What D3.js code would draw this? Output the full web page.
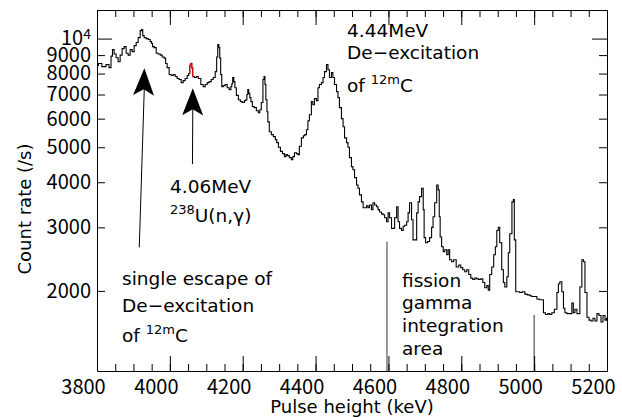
<!DOCTYPE html>
<html>
<head>
<meta charset="utf-8">
<script src="https://cdn.jsdelivr.net/npm/d3@7"></script>
<style>
  body { margin: 0; background: #fff; }
  svg { display: block; font-family: "DejaVu Sans", "Liberation Sans", sans-serif; }
  .tick text { font-family: "Noto Sans CJK JP", "Liberation Sans", sans-serif; }
</style>
</head>
<body>
<svg id="chart"></svg>
<script>
// pulse height bins (keV) and count rate (/s)
const energy = [
  3800, 3808, 3819, 3830, 3836, 3841, 3844, 3850, 3855, 3861,
  3866, 3872, 3877, 3883, 3888, 3894, 3899, 3905, 3910, 3916,
  3921, 3924, 3927, 3932, 3938, 3943, 3949, 3951, 3954, 3960,
  3965, 3971, 3976, 3982, 3987, 3990, 3995, 4001, 4006, 4012,
  4017, 4023, 4028, 4034, 4039, 4045, 4050, 4053, 4056, 4059,
  4061, 4064, 4070, 4075, 4081, 4089, 4094, 4100, 4105, 4111,
  4116, 4122, 4127, 4130, 4133, 4136, 4138, 4141, 4144, 4149,
  4155, 4160, 4166, 4169, 4171, 4174, 4177, 4180, 4185, 4191,
  4196, 4202, 4207, 4210, 4213, 4215, 4218, 4221, 4224, 4229,
  4235, 4240, 4246, 4248, 4254, 4257, 4260, 4262, 4265, 4268,
  4270, 4276, 4281, 4287, 4292, 4295, 4301, 4306, 4312, 4317,
  4320, 4325, 4331, 4336, 4339, 4345, 4350, 4353, 4358, 4364,
  4369, 4372, 4378, 4380, 4386, 4391, 4394, 4400, 4405, 4408,
  4413, 4419, 4422, 4427, 4433, 4435, 4441, 4446, 4449, 4455,
  4460, 4463, 4468, 4474, 4477, 4482, 4488, 4490, 4496, 4501,
  4504, 4510, 4515, 4518, 4523, 4529, 4532, 4537, 4543, 4545,
  4551, 4556, 4559, 4565, 4570, 4573, 4578, 4584, 4587, 4592,
  4598, 4600, 4606, 4611, 4614, 4620, 4625, 4628, 4633, 4639,
  4642, 4647, 4653, 4655, 4661, 4666, 4669, 4675, 4680, 4683,
  4688, 4694, 4697, 4699, 4705, 4710, 4716, 4721, 4724, 4730,
  4735, 4738, 4741, 4743, 4749, 4752, 4757, 4763, 4765, 4771,
  4776, 4782, 4790, 4796, 4801, 4807, 4812, 4818, 4823, 4829,
  4834, 4840, 4845, 4851, 4856, 4862, 4867, 4873, 4875, 4881,
  4886, 4892, 4895, 4900, 4903, 4908, 4914, 4917, 4922, 4928,
  4930, 4936, 4942, 4944, 4947, 4952, 4958, 4963, 4972, 4977,
  4985, 4991, 4996, 5005, 5010, 5018, 5024, 5027, 5035, 5040,
  5046, 5051, 5060, 5065, 5068, 5073, 5079, 5082, 5087, 5093,
  5101, 5106, 5109, 5115, 5120, 5123, 5128, 5134, 5137, 5142,
  5148, 5153, 5159, 5164, 5170, 5175, 5181, 5186, 5192, 5197,
  5200
];
const countRate = [
  8420, 8530, 8360, 8470, 8310, 8940, 9320, 9060, 8850, 8630,
  9000, 9380, 9500, 9110, 9000, 9320, 9200, 9560, 9750, 10060,
  10520, 10590, 10190, 10060, 10000, 9940, 9810, 9690, 9500, 9440,
  9110, 9060, 9000, 8890, 8830, 8530, 8310, 7950, 7900, 7950,
  7850, 7750, 7700, 7550, 7650, 7750, 7900, 8000, 8420, 8530,
  8310, 7850, 7800, 7850, 7750, 7460, 7360, 7460, 7550, 7600,
  7700, 7800, 8100, 8890, 9620, 9440, 8830, 7950, 7360, 7410,
  7460, 7310, 7220, 7360, 7500, 7800, 7600, 7310, 6960, 6770,
  6690, 6650, 6730, 6770, 7000, 7220, 7050, 6860, 6690, 6480,
  6440, 6310, 6230, 6350, 6650, 7700, 7850, 7460, 6770, 6270,
  5880, 5520, 5420, 5350, 5250, 5150, 5000, 4870, 4800, 4710,
  4770, 4740, 4680, 4620, 4710, 4830, 4800, 4770, 5030, 5310,
  5380, 5420, 5590, 5920, 6150, 6690, 6560, 6820, 6730, 7310,
  7460, 7550, 7800, 8100, 8470, 8200, 7800, 8050, 7800, 7460,
  7130, 6860, 6440, 6000, 5700, 5310, 5150, 5000, 4680, 4420,
  4330, 4120, 3930, 3850, 3690, 3530, 3400, 3400, 3440, 3400,
  3460, 3360, 3510, 3460, 3420, 3360, 3310, 3270, 3250, 3190,
  3110, 3290, 3190, 2980, 2980, 3190, 3420, 3110, 2980, 2940,
  3020, 3040, 3110, 3290, 3510, 3150, 2770, 2770, 3290, 3530,
  3650, 3850, 3360, 2810, 2720, 2740, 2810, 3000, 3210, 3510,
  3930, 3810, 3210, 2820, 2650, 2570, 2600, 2520, 2600, 2440,
  2410, 2440, 2330, 2360, 2320, 2290, 2260, 2290, 2220, 2170,
  2150, 2170, 2160, 2150, 2160, 2110, 2040, 2070, 2010, 2220,
  2330, 2520, 2650, 2940, 3000, 2720, 2290, 2110, 2050, 2190,
  2550, 2880, 3530, 3580, 2770, 1990, 1990, 1980, 1990, 1960,
  1950, 1940, 1930, 1930, 1900, 1890, 1890, 1740, 1720, 1730,
  1720, 1740, 1780, 1980, 2090, 2120, 1990, 1790, 1740, 1730,
  1730, 1850, 1740, 1780, 1730, 1730, 2050, 2440, 2410, 1980,
  1690, 1660, 1650, 1680, 1650, 1730, 1710, 1640, 1710, 1660,
  1680
];
const redRange = [4053, 4064];

const xMajor = [3800, 4000, 4200, 4400, 4600, 4800, 5000, 5200];
const xMinor = d3.range(3800, 5201, 50);
const yLabelled = [2000, 3000, 4000, 5000, 6000, 7000, 8000, 9000, 10000];

// fission gamma integration area bounds: [energy, top of marker]
const integrationLines = [[4596, 2740], [5000, 1715]];
// arrows: [tail energy, tail count, tip energy, tip count]
const arrows = [[3916, 2640, 3930, 8270], [4062, 4490, 4063, 7280]];

const width = 622, height = 418;
const margin = { top: 10, right: 15, bottom: 47, left: 97 };
const innerWidth = width - margin.left - margin.right;
const innerHeight = height - margin.top - margin.bottom;

const svg = d3.select('#chart').attr('width', width).attr('height', height);
const g = svg.append('g').attr('transform', `translate(${margin.left},${margin.top})`);

const x = d3.scaleLinear().domain([3800, 5200]).range([0, innerWidth]);
const y = d3.scaleLog().domain([1200, 12000]).range([innerHeight, 0]);

const data = energy.map((e, i) => ({ e, c: countRate[i] }));

const line = d3.line()
  .x(d => x(d.e))
  .y(d => y(d.c))
  .curve(d3.curveStep);

g.append('path')
  .datum(data)
  .attr('fill', 'none')
  .attr('stroke', '#000')
  .attr('stroke-width', 1.1)
  .attr('d', line);

g.append('path')
  .datum(data.filter(d => d.e >= redRange[0] && d.e <= redRange[1]))
  .attr('fill', 'none')
  .attr('stroke', '#d01010')
  .attr('stroke-width', 1.4)
  .attr('d', line);

// integration area markers
g.selectAll('.intline')
  .data(integrationLines)
  .enter()
  .append('line')
  .attr('x1', d => x(d[0])).attr('x2', d => x(d[0]))
  .attr('y1', d => y(d[1])).attr('y2', innerHeight)
  .attr('stroke', '#333')
  .attr('stroke-width', 1);

// axes (frame with inward ticks)
function styleAxis(sel) {
  sel.selectAll('path, line').attr('stroke', '#000').attr('stroke-width', 1);
  sel.selectAll('text').attr('fill', '#000');
}

g.append('g').attr('transform', `translate(0,${innerHeight})`)
  .call(d3.axisBottom(x).tickValues(xMinor).tickSize(-7).tickSizeOuter(0).tickFormat(''))
  .call(styleAxis);
const xAx = g.append('g').attr('transform', `translate(0,${innerHeight})`)
  .call(d3.axisBottom(x).tickValues(xMajor).tickSize(-15).tickSizeOuter(0).tickPadding(9).tickFormat(d3.format('d')))
  .call(styleAxis);
// tick labels sit a little left of their ticks in the original figure
xAx.selectAll('text')
  .attr('x', -14)
  .attr('transform', 'translate(-14,0)')
  .attr('x', 0)
  .style('font-size', '20px');
xAx.select('.domain').remove();

g.append('g')
  .call(d3.axisTop(x).tickValues(xMinor).tickSize(-7).tickSizeOuter(0).tickFormat(''))
  .call(styleAxis);
g.append('g')
  .call(d3.axisTop(x).tickValues(xMajor).tickSize(-15).tickSizeOuter(0).tickFormat(''))
  .call(styleAxis)
  .select('.domain').remove();

const yAx = g.append('g')
  .call(d3.axisLeft(y).tickValues(yLabelled).tickSize(-8).tickSizeOuter(0).tickPadding(6).tickFormat(d3.format('d')))
  .call(styleAxis);
yAx.selectAll('text').style('font-size', '20px');
yAx.selectAll('.tick').filter(d => d === 10000).each(function() {
  d3.select(this).select('line').attr('x2', 15);
  const t = d3.select(this).select('text').text('10');
  t.append('tspan').attr('dy', '-0.45em').style('font-size', '14px').text('4');
});

const yAxR = g.append('g').attr('transform', `translate(${innerWidth},0)`)
  .call(d3.axisRight(y).tickValues(yLabelled).tickSize(-8).tickSizeOuter(0).tickFormat(''))
  .call(styleAxis);
yAxR.selectAll('.tick').filter(d => d === 10000).select('line').attr('x2', -15);

// axis titles
svg.append('text')
  .attr('x', 352).attr('y', 413)
  .attr('text-anchor', 'middle')
  .style('font-size', '18px')
  .text('Pulse height (keV)');

svg.append('text')
  .attr('transform', 'translate(31,209) rotate(-90)')
  .attr('text-anchor', 'middle')
  .style('font-size', '18px')
  .text('Count rate (/s)');

// arrows
const arrowG = g.selectAll('.arrow').data(arrows).enter().append('g');
arrowG.append('line')
  .attr('x1', d => x(d[0])).attr('y1', d => y(d[1]))
  .attr('x2', d => x(d[2])).attr('y2', d => y(d[3]) + 18)
  .attr('stroke', '#000').attr('stroke-width', 1);
arrowG.append('path')
  .attr('d', 'M0,0 L10.5,27 L0,21 L-10.5,27 Z')
  .attr('fill', '#000')
  .attr('transform', d => {
    const ang = Math.atan2(x(d[2]) - x(d[0]), y(d[1]) - y(d[3])) * 180 / Math.PI;
    return `translate(${x(d[2])},${y(d[3])}) rotate(${ang})`;
  });

// annotations; parts are plain strings or { sup: '...' }
function label(px, py, parts) {
  const t = svg.append('text').attr('x', px).attr('y', py).style('font-size', '18.5px');
  let raised = false;
  parts.forEach(p => {
    if (typeof p === 'object') {
      t.append('tspan').attr('dy', -8).style('font-size', '13px').text(p.sup);
      raised = true;
    } else {
      t.append('tspan').attr('dy', raised ? 8 : 0).text(p);
      raised = false;
    }
  });
  return t;
}

label(347, 37, ['4.44MeV']);
label(347, 59, ['De−excitation']);
label(347, 92, ['of ', { sup: '12m' }, 'C']);

label(170, 193, ['4.06MeV']);
label(170, 222, [{ sup: '238' }, 'U(n,γ)']);

label(122, 285, ['single escape of']);
label(122, 312, ['De−excitation']);
label(122, 342, ['of ', { sup: '12m' }, 'C']);

label(402, 287, ['fission']);
label(402, 309, ['gamma']);
label(402, 332, ['integration']);
label(402, 355, ['area']);
</script>
</body>
</html>
